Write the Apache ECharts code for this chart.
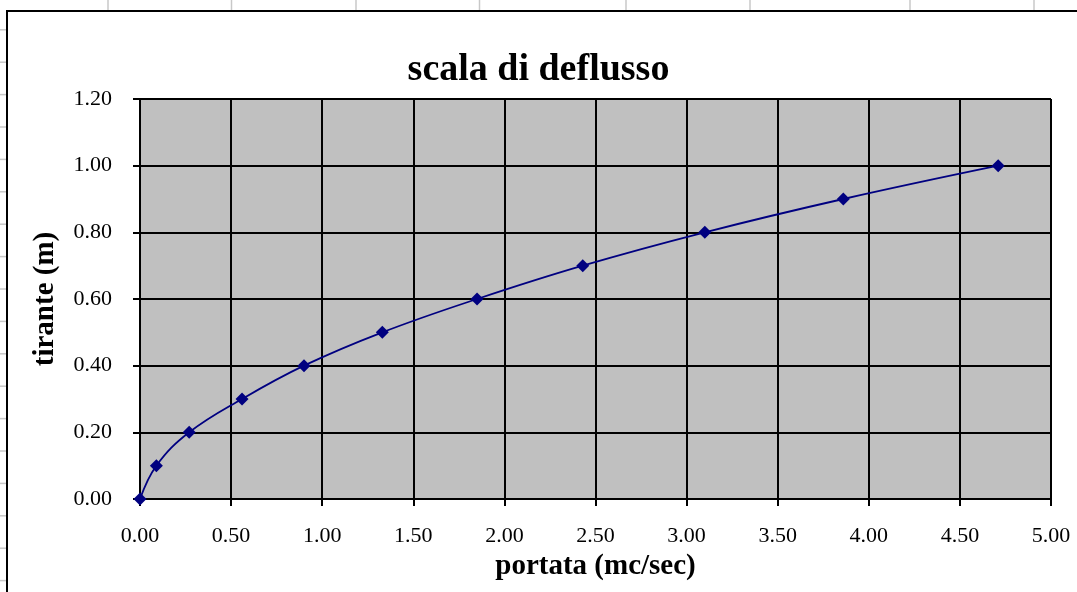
<!DOCTYPE html>
<html>
<head>
<meta charset="utf-8">
<script src="https://cdn.jsdelivr.net/npm/echarts@6/dist/echarts.min.js"></script>
<style>
html,body{margin:0;padding:0;background:#fff;}
#c{width:1077px;height:592px;}
</style>
</head>
<body>
<div id="c"></div>
<script>
// data
const portata = [0, 0.09, 0.27, 0.56, 0.90, 1.33, 1.85, 2.43, 3.10, 3.86, 4.71];
const tirante = [0, 0.10, 0.20, 0.30, 0.40, 0.50, 0.60, 0.70, 0.80, 0.90, 1.00];
const titleText = 'scala di deflusso';
const xName = 'portata (mc/sec)';
const yName = 'tirante (m)';
// spreadsheet decoration positions
const colLines = [108, 231.5, 356, 479.5, 626, 750, 910, 1034];
const rowLines = [];
for (let i = 0; i < 18; i++) rowLines.push(29.8 + 32.4 * i);

const font = '"Liberation Serif", "Times New Roman", serif';
const chart = echarts.init(document.getElementById('c'), null, {renderer: 'canvas'});

const gfx = [];
colLines.forEach(x => gfx.push({type: 'line', z: -100, shape: {x1: x, y1: 0, x2: x, y2: 11}, style: {stroke: '#c8c8c8', lineWidth: 1.5}}));
rowLines.forEach(y => gfx.push({type: 'line', z: -100, shape: {x1: 0, y1: y, x2: 7, y2: y}, style: {stroke: '#c8c8c8', lineWidth: 1.5}}));
gfx.push({type: 'rect', z: -99, shape: {x: 7, y: 11, width: 1100, height: 620}, style: {fill: '#fff', stroke: '#000', lineWidth: 2}});

const pts = portata.map((x, i) => [x, tirante[i]]);

chart.setOption({
  animation: false,
  graphic: gfx,
  title: {
    text: titleText, left: 'center', top: 46,
    textStyle: {fontFamily: font, fontSize: 38, fontWeight: 'bold', color: '#000'}
  },
  grid: {left: 140, top: 99, right: 26, bottom: 93, show: true, backgroundColor: '#C0C0C0', borderColor: '#808080', borderWidth: 1},
  xAxis: {
    type: 'value', min: 0, max: 5, interval: 0.5,
    name: xName, nameLocation: 'middle', nameGap: 49,
    nameTextStyle: {fontFamily: font, fontSize: 29, fontWeight: 'bold', color: '#000'},
    axisLine: {show: true, lineStyle: {color: '#000', width: 2}},
    axisTick: {show: true, length: 7, lineStyle: {color: '#000', width: 2}},
    axisLabel: {margin: 26, fontFamily: font, fontSize: 22, color: '#000', formatter: v => v.toFixed(2)},
    splitLine: {show: true, lineStyle: {color: '#000', width: 2}}
  },
  yAxis: {
    type: 'value', min: 0, max: 1.2, interval: 0.2,
    name: yName, nameLocation: 'middle', nameGap: 80,
    nameTextStyle: {fontFamily: font, fontSize: 29, fontWeight: 'bold', color: '#000'},
    axisLine: {show: true, lineStyle: {color: '#000', width: 2}},
    axisTick: {show: true, length: 7, lineStyle: {color: '#000', width: 2}},
    axisLabel: {margin: 28, fontFamily: font, fontSize: 22, color: '#000', formatter: v => v.toFixed(2)},
    splitLine: {show: true, lineStyle: {color: '#000', width: 2}}
  },
  series: [{
    type: 'line', data: pts, smooth: 0.4,
    symbol: 'diamond', symbolSize: 13,
    lineStyle: {color: '#000080', width: 1.8},
    itemStyle: {color: '#000080'}
  }]
});
</script>
</body>
</html>
